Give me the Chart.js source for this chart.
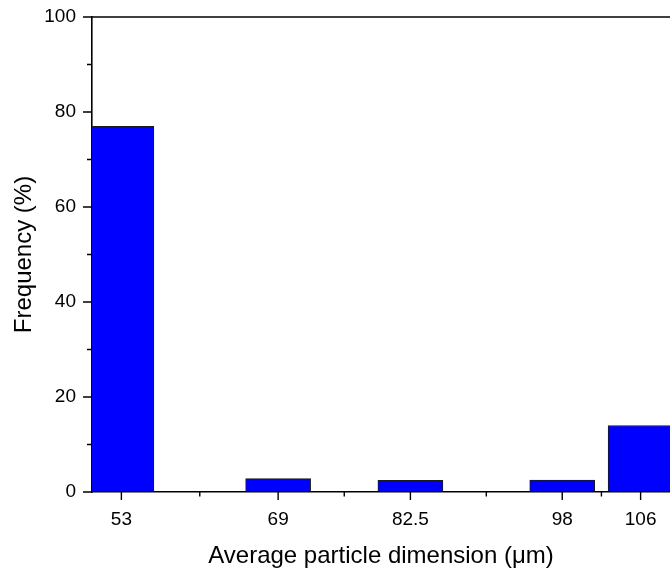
<!DOCTYPE html>
<html>
<head>
<meta charset="utf-8">
<script src="https://cdn.jsdelivr.net/npm/chart.js@4/dist/chart.umd.min.js"></script>
<style>
  html, body { margin: 0; padding: 0; background: #fff; }
  #wrap { width: 670px; height: 571px; }
</style>
</head>
<body>
<div id="wrap"><canvas id="chart"></canvas></div>
<script>
  // particle size classes (µm) and their frequency (%)
  const sizes = [53, 69, 82.5, 98, 106];
  const frequency = [77, 2.8, 2.45, 2.5, 14];
  const yMajor = [0, 20, 40, 60, 80, 100];
  const yMinor = [10, 30, 50, 70, 90];
  const xMinor = [61, 75.75, 90.25, 102];

  const FONT = '"Liberation Sans", Arial, sans-serif';

  // axis frame (top line) and outward tick marks
  const frame = {
    id: 'frame',
    afterDraw(chart) {
      const { ctx, chartArea: a, scales: { x, y } } = chart;
      ctx.save();
      ctx.strokeStyle = '#000';
      ctx.lineWidth = 1.6;
      ctx.beginPath();
      ctx.moveTo(a.left, a.top);
      ctx.lineTo(a.right, a.top);
      ctx.stroke();
      ctx.lineWidth = 1.4;
      ctx.beginPath();
      yMajor.forEach(v => { const p = y.getPixelForValue(v); ctx.moveTo(a.left - 9, p); ctx.lineTo(a.left, p); });
      yMinor.forEach(v => { const p = y.getPixelForValue(v); ctx.moveTo(a.left - 5, p); ctx.lineTo(a.left, p); });
      sizes.forEach(v => { const p = x.getPixelForValue(v); ctx.moveTo(p, a.bottom); ctx.lineTo(p, a.bottom + 8); });
      xMinor.forEach(v => { const p = x.getPixelForValue(v); ctx.moveTo(p, a.bottom); ctx.lineTo(p, a.bottom + 4.5); });
      ctx.stroke();
      ctx.restore();
    }
  };

  // invisible tick marks only used to space the labels from the axis
  const spacer = { display: true, drawOnChartArea: false, drawTicks: true, tickLength: 16, tickColor: 'rgba(0,0,0,0)', color: 'rgba(0,0,0,0)' };

  new Chart(document.getElementById('chart'), {
    type: 'bar',
    data: {
      datasets: [{
        data: sizes.map((s, i) => ({ x: s, y: frequency[i] })),
        backgroundColor: '#0000ff',
        borderColor: '#1a1a1a',
        borderWidth: 1,
        barThickness: 65
      }]
    },
    options: {
      responsive: true,
      maintainAspectRatio: false,
      animation: false,
      layout: { padding: { top: 17, right: 0, left: 0, bottom: 0 } },
      plugins: { legend: { display: false }, tooltip: { enabled: false } },
      scales: {
        x: {
          type: 'linear',
          min: 50,
          max: 109,
          offset: false,
          z: 1,
          afterBuildTicks: s => { s.ticks = sizes.map(v => ({ value: v })); },
          afterFit: s => { s.height = 79; },
          grid: Object.assign({ offset: false }, spacer),
          border: { display: true, color: '#000', width: 1.6 },
          ticks: {
            autoSkip: false,
            maxRotation: 0,
            padding: 0,
            color: '#000',
            font: { family: FONT, size: 19 },
            callback: v => String(v)
          },
          title: {
            display: true,
            text: 'Average particle dimension (μm)',
            color: '#000',
            font: { family: FONT, size: 24 },
            padding: { top: 0, bottom: 0 }
          }
        },
        y: {
          min: 0,
          max: 100,
          z: 1,
          afterFit: s => { s.width = 92; },
          grid: spacer,
          border: { display: true, color: '#000', width: 1.6 },
          ticks: {
            stepSize: 20,
            padding: 0,
            color: '#000',
            font: { family: FONT, size: 19 }
          },
          title: {
            display: true,
            text: 'Frequency (%)',
            color: '#000',
            font: { family: FONT, size: 24 },
            padding: { top: 9.5, bottom: 0 }
          }
        }
      }
    },
    plugins: [frame]
  });
</script>
</body>
</html>
